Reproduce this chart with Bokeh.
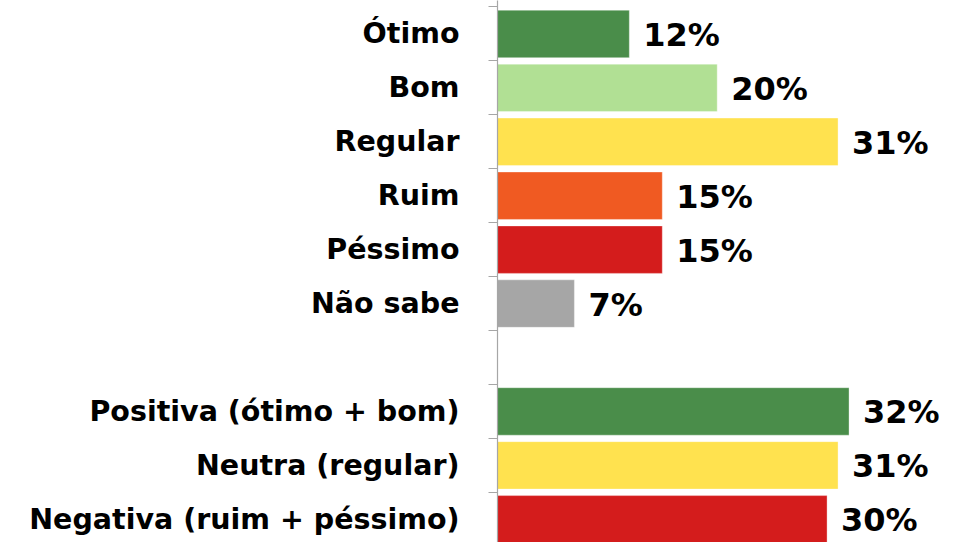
from bokeh.plotting import figure
from bokeh.models import ColumnDataSource, Range1d, FixedTicker
from bokeh.core.properties import value
from bokeh.embed import file_html
from bokeh.resources import INLINE

# ---- data ----
group1_labels = ["Ótimo", "Bom", "Regular", "Ruim", "Péssimo", "Não sabe"]
group1_values = [12, 20, 31, 15, 15, 7]
group1_colors = ["#4a8d4a", "#b1e094", "#ffe24f", "#f05a22", "#d41c1c", "#a6a6a6"]

group2_labels = ["Positiva (ótimo + bom)", "Neutra (regular)", "Negativa (ruim + péssimo)"]
group2_values = [32, 31, 30]
group2_colors = ["#4a8d4a", "#ffe24f", "#d41c1c"]

labels = group1_labels + group2_labels
values = group1_values + group2_values
colors = group1_colors + group2_colors
# rows: a blank row separates the two groups
rows = [i + 0.5 for i in range(len(group1_labels))] + \
       [len(group1_labels) + 1 + i + 0.5 for i in range(len(group2_labels))]
n_rows = len(group1_labels) + 1 + len(group2_labels)

source = ColumnDataSource(dict(
    row=rows, value=values, color=colors,
    text=[f"{v}%" for v in values],
))

p = figure(width=954, height=542, output_backend="svg", toolbar_location=None,
           x_axis_location=None,
           x_range=Range1d(0, 41.6), y_range=Range1d(n_rows - 0.07, -0.12),
           min_border_left=497, min_border_right=0, min_border_top=0, min_border_bottom=0)
p.outline_line_color = None
p.grid.visible = False
p.background_fill_color = "white"

p.hbar(y="row", left=0, right="value", height=0.88, fill_color="color",
       line_color="white", line_alpha=0.35, line_width=1, source=source)

p.text(x="value", y="row", text="text", x_offset=14, y_offset=1,
       text_baseline="middle", text_align="left",
       text_font=value("DejaVu Sans"), text_font_style="bold",
       text_font_size="32px", text_color="black", source=source)

ax = p.yaxis[0]
ax.ticker = FixedTicker(ticks=rows, minor_ticks=list(range(n_rows + 1)))
ax.major_label_overrides = {r: l for r, l in zip(rows, labels)}
ax.major_tick_out = 0
ax.major_tick_in = 0
ax.minor_tick_out = 9
ax.minor_tick_in = 0
ax.minor_tick_line_color = "#a6a6a6"
ax.axis_line_color = "#a6a6a6"
ax.axis_line_width = 1.2
ax.major_label_standoff = 29
ax.major_label_text_font = "DejaVu Sans"
ax.major_label_text_font_style = "bold"
ax.major_label_text_font_size = "28.5px"
ax.major_label_text_color = "black"

open("out.html", "w").write(file_html(p, INLINE))
